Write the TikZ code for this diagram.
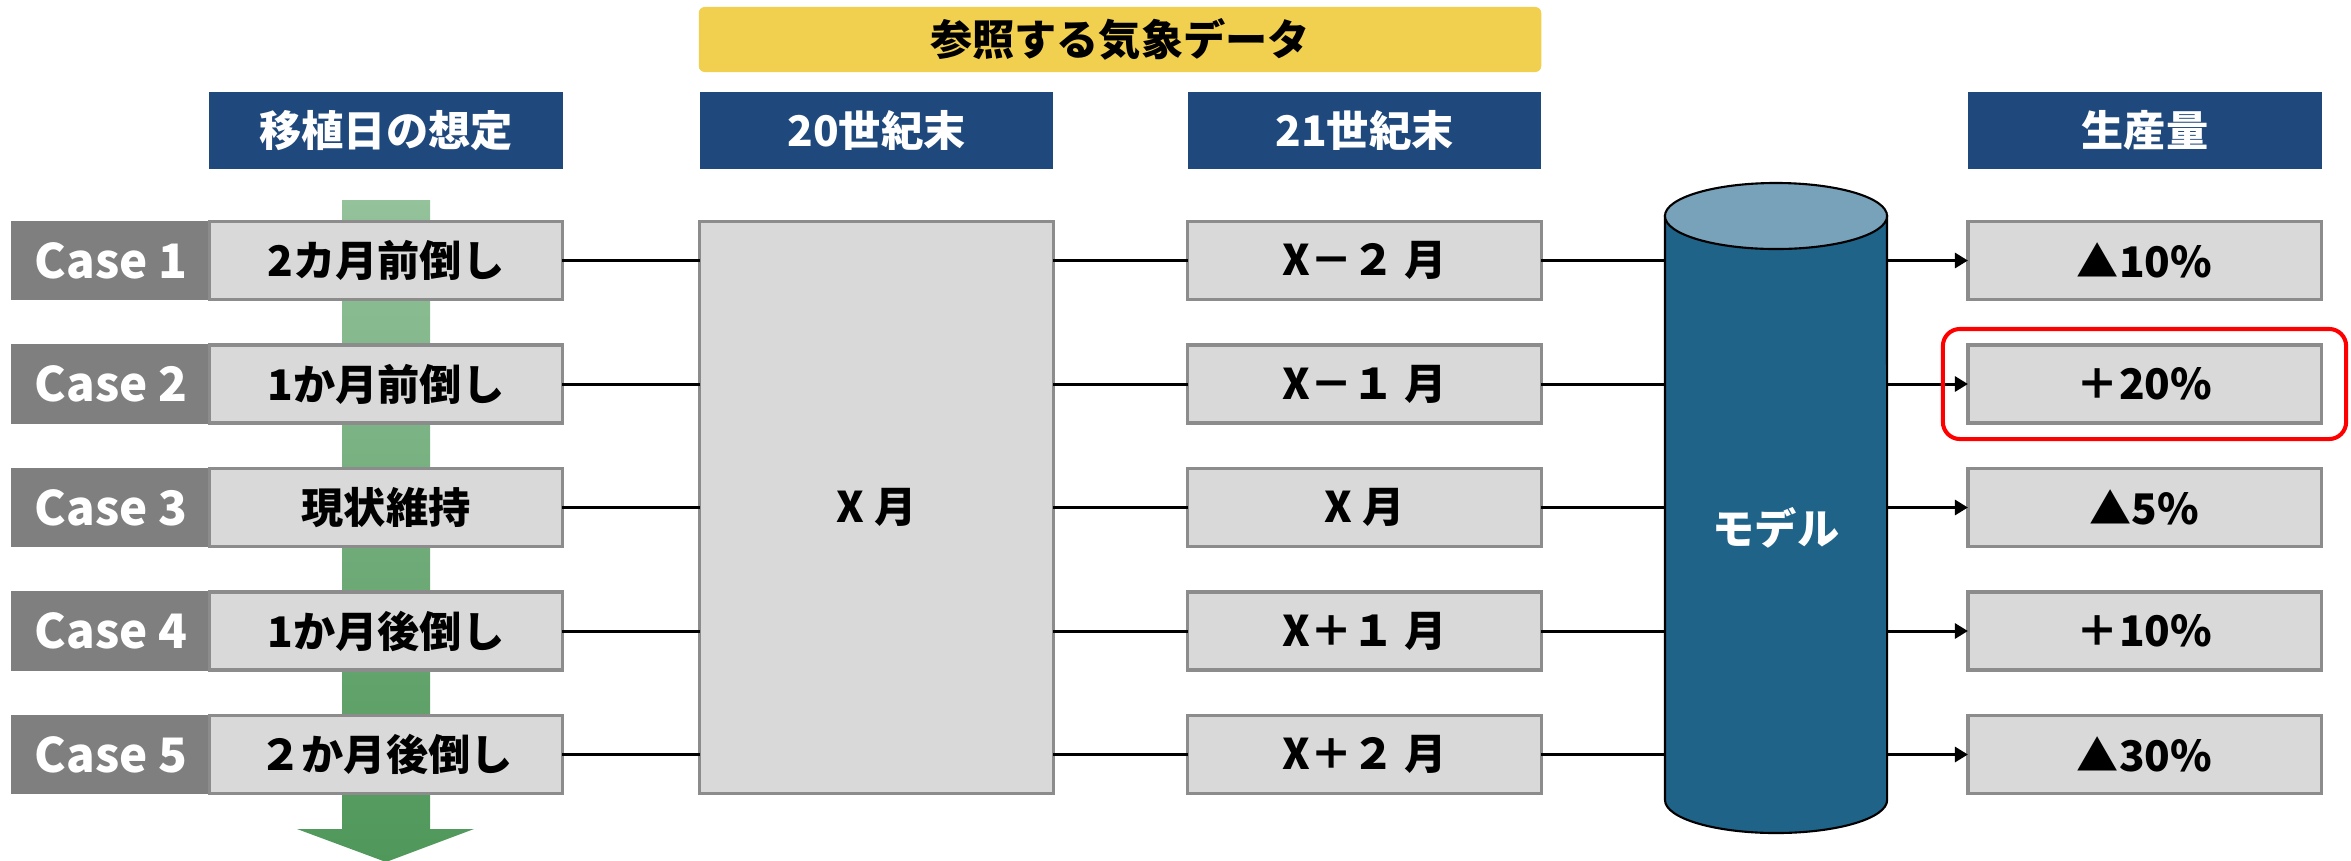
\documentclass[tikz,border=0pt]{standalone}
\usepackage{fontspec}
\setmainfont{Noto Sans CJK JP}
\usetikzlibrary{arrows.meta,fit}
\definecolor{navy}{HTML}{1F497D}
\definecolor{ttlyellow}{HTML}{F2D04F}
\definecolor{boxgray}{HTML}{D9D9D9}
\definecolor{bordergray}{HTML}{8C8C8C}
\definecolor{casegray}{HTML}{7F7F7F}
\definecolor{cylbody}{HTML}{1F6388}
\definecolor{cyltop}{HTML}{78A2BA}
\definecolor{gtop}{HTML}{94C29B}
\definecolor{gbot}{HTML}{4F975A}
\begin{document}
\begin{tikzpicture}[x=0.01cm,y=-0.01cm,
  font=\fontsize{12pt}{14pt}\selectfont\bfseries,
  hdr/.style={fill=navy,text=white,minimum width=3.53cm,minimum height=0.77cm,inner sep=0pt,outer sep=0pt},
  gbox/.style={fill=boxgray,draw=bordergray,line width=0.9pt,minimum width=3.53cm,minimum height=0.78cm,inner sep=0pt,outer sep=0pt},
  casebox/.style={fill=casegray,text=white,minimum width=1.99cm,minimum height=0.79cm,inner sep=0pt,outer sep=0pt,font=\fontsize{13.5pt}{15pt}\selectfont\bfseries},
  link/.style={line width=0.85pt,black},
  arr/.style={link,-{Triangle[length=0.13cm,width=0.15cm]}}]
\useasboundingbox (0,0) rectangle (2351,860);

% green arrow
\shade[top color=gtop,bottom color=gbot] (342,200) -- (430,200) -- (430,829) -- (474,829) -- (386,862) -- (297,829) -- (342,829) -- cycle;

% title and headers
\node[fill=ttlyellow,rounded corners=0.06cm,minimum width=8.42cm,minimum height=0.65cm,inner sep=0pt] (title) at (1120,39.5) {参照する気象データ};
\node[hdr] (h1) at (386,130.5) {移植日の想定};
\node[hdr] (h2) at (876.5,130.5) {20世紀末};
\node[hdr] (h3) at (1364.5,130.5) {21世紀末};
\node[hdr] (h4) at (2145,130.5) {生産量};

% big 20th century box
\node[gbox,minimum height=5.71cm] (b20) at (876.5,507.5) {X 月};

% cylinder
\draw[fill=cylbody,line width=0.6pt] (1665,216) -- (1665,800) arc[start angle=180,end angle=360,x radius=1.11cm,y radius=0.33cm] -- (1887,216) -- cycle;
\draw[fill=cyltop,line width=0.6pt] (1776,216) ellipse[x radius=1.11cm,y radius=0.33cm];
\node[text=white,minimum width=2.22cm,inner sep=0pt,outer sep=0pt] (model) at (1776,528) {モデル};

% rows
\foreach \i/\y/\lab/\case/\fut/\res in {
  1/260.5/Case 1/2カ月前倒し/X－２ 月/▲10\%,
  2/384/Case 2/1か月前倒し/X－１ 月/＋20\%,
  3/507.5/Case 3/現状維持/X 月/▲5\%,
  4/631/Case 4/1か月後倒し/X＋１ 月/＋10\%,
  5/754.5/Case 5/２か月後倒し/X＋２ 月/▲30\%}{
  \node[casebox] (k\i) at (111,\y) {\lab};
  \node[gbox,minimum width=3.52cm] (c\i) at (386,\y) {\case};
  \node[gbox] (m\i) at (1364.5,\y) {\fut};
  \node[gbox] (r\i) at (2144.5,\y) {\res};
  \draw[link] (c\i.east) -- (b20.west |- c\i.east);
  \draw[link] (b20.east |- m\i.west) -- (m\i.west);
  \draw[link] (m\i.east) -- (model.west |- m\i.east);
  \draw[arr] (model.east |- r\i.west) -- (r\i.west);
}

% highlight
\node[fit=(r2),inner xsep=0.25cm,inner ysep=0.16cm,draw=red,line width=1.15pt,rounded corners=0.17cm] (hl) {};
\end{tikzpicture}
\end{document}
